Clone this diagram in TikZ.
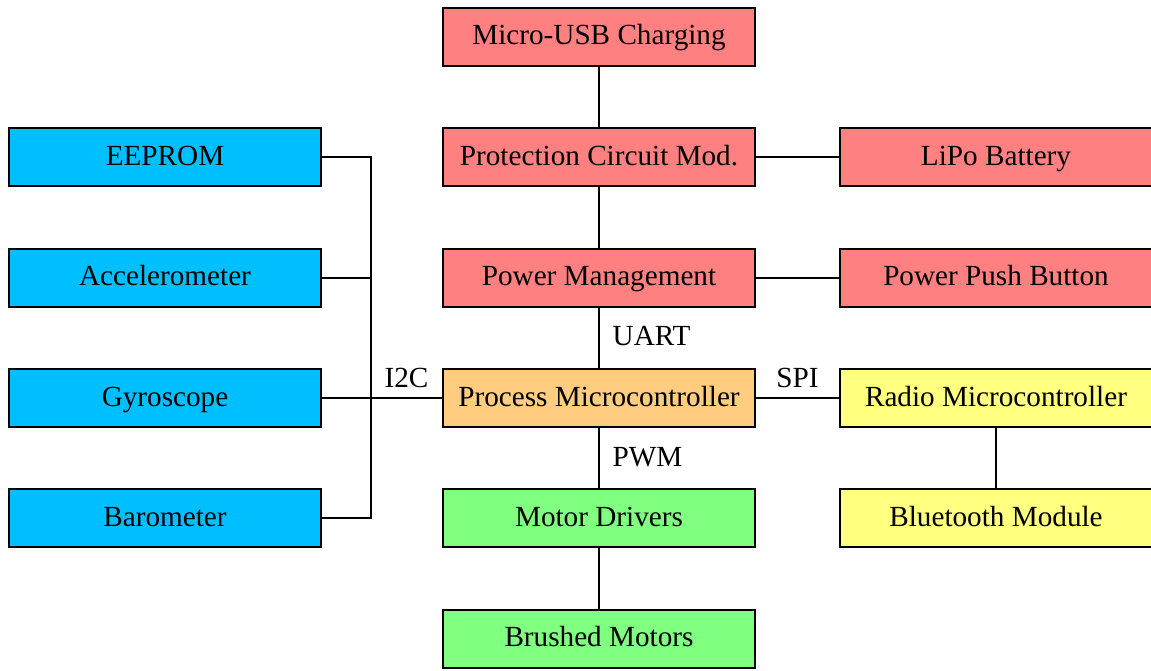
\documentclass[tikz,border=0pt]{standalone}
\usepackage{fontspec}
\setmainfont{Liberation Serif}
\usepackage{xcolor}
\usepackage{tikz}
\usetikzlibrary{positioning}
\definecolor{powerred}{HTML}{FF8080}
\definecolor{sensorblue}{HTML}{00BFFF}
\definecolor{mcuorange}{HTML}{FFCC80}
\definecolor{motorgreen}{HTML}{80FF80}
\definecolor{radioyellow}{HTML}{FFFF80}

\begin{document}
\begin{tikzpicture}[
  x=0.5pt, y=-0.5pt,
  block/.style={draw, line width=1pt, minimum width=156pt,
    minimum height=29pt, inner sep=0pt, text height=0.8em, text depth=0pt,
    font=\fontsize{14.6pt}{17pt}\selectfont},
  link/.style={line width=1pt},
  bus/.style={font=\fontsize{14.6pt}{17pt}\selectfont, text height=0.8em,
    text depth=0pt}
]
  \useasboundingbox (0,0) rectangle (1151,670);

  % power chain
  \node[block, fill=powerred] (usb) at (599,36.5) {Micro-USB Charging};
  \node[block, fill=powerred] (pcm) at (599,157) {Protection Circuit Mod.};
  \node[block, fill=powerred] (lipo) at (996,157) {LiPo Battery};
  \node[block, fill=powerred] (pwr) at (599,277.5) {Power Management};
  \node[block, fill=powerred] (button) at (996,277.5) {Power Push Button};

  % controllers
  \node[block, fill=mcuorange] (proc) at (599,398) {Process Microcontroller};
  \node[block, fill=radioyellow] (radio) at (996,398) {Radio Microcontroller};
  \node[block, fill=radioyellow] (bt) at (996,518) {Bluetooth Module};

  % motors
  \node[block, fill=motorgreen] (drv) at (599,518) {Motor Drivers};
  \node[block, fill=motorgreen] (motors) at (599,638.5) {Brushed Motors};

  % sensors on the I2C bus
  \node[block, fill=sensorblue] (eeprom) at (165,157) {EEPROM};
  \node[block, fill=sensorblue] (accel) at (165,277.5) {Accelerometer};
  \node[block, fill=sensorblue] (gyro) at (165,398) {Gyroscope};
  \node[block, fill=sensorblue] (baro) at (165,518) {Barometer};
  \coordinate (i2c) at (371,398);

  \draw[link] (usb) -- (pcm);
  \draw[link] (pcm) -- (lipo);
  \draw[link] (pcm) -- (pwr);
  \draw[link] (pwr) -- (button);
  \draw[link] (pwr) -- (proc) node[midway, right, xshift=3pt, bus] {UART};
  \draw[link] (proc) -- (drv) node[midway, right, xshift=3pt, bus] {PWM};
  \draw[link] (drv) -- (motors);
  \draw[link] (proc) -- (radio) node[midway, above, yshift=1.5pt, bus] {SPI};
  \draw[link] (radio) -- (bt);

  \draw[link] (eeprom.east) -| (i2c) |- (baro.east);
  \draw[link] (accel.east) -- (accel.east -| i2c);
  \draw[link] (gyro.east) -- (proc.west);
  \path (i2c) -- (proc.west) node[midway, above, yshift=1.5pt, bus] {I2C};
\end{tikzpicture}
\end{document}
